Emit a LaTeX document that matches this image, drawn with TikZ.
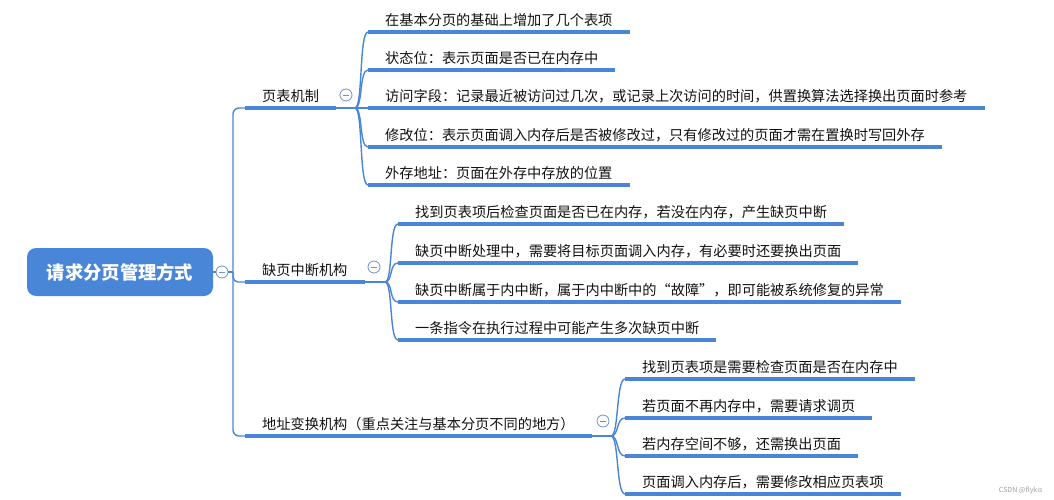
\documentclass[tikz,border=0pt]{standalone}
\usepackage{fontspec}
\setmainfont{Noto Sans CJK SC}
\usepackage{xcolor}
\usepackage{tikz}
\definecolor{ink}{HTML}{111111}
\definecolor{branch}{HTML}{4A86D8}
\definecolor{foldc}{HTML}{7090C8}
\definecolor{mark}{HTML}{A0A0A0}
\newcommand\topicfont{\fontsize{14.2}{17}\selectfont}
\tikzset{
  link/.style={draw=branch, line width=1.4pt},
  uline/.style={draw=branch, line width=3.6pt},
  rootbox/.style={fill=branch, rounded corners=9pt, minimum width=186pt, minimum height=48pt,
    text=white, font=\fontsize{18.3}{22}\selectfont\bfseries},
  topic/.style={anchor=south west, inner xsep=17pt, inner ysep=5pt, text=ink, font=\topicfont,
    append after command={\pgfextra{\let\topnode=\tikzlastnode}
      (\topnode.south west) edge[uline] (\topnode.south east)}},
  fold/.style={circle, draw=foldc, fill=white, line width=0.8pt, minimum size=12pt, inner sep=0pt,
    path picture={\draw[foldc, line width=0.8pt] ([xshift=-3pt]path picture bounding box.center)
      -- ([xshift=3pt]path picture bounding box.center);}},
}
\begin{document}
\begin{tikzpicture}[x=1pt, y=-1pt]
  \useasboundingbox (0,0) rectangle (1054,500);

  \node[rootbox] (root) at (120,272) {请求分页管理方式};
  \node[fold] (rootfold) at (222,272) {};
  \coordinate (trunk) at (233,272);

  % branches
  \node[topic] (tbl) at (245,108) {页表机制};
  \node[topic] (flt) at (245,282) {缺页中断机构};
  \node[topic] (adr) at (245,436) {地址变换机构（重点关注与基本分页不同的地方）};

  \draw[link] (root) -- (rootfold) -- (trunk);
  \draw[link, rounded corners=6pt] (trunk) |- (tbl.south west);
  \draw[link, rounded corners=5pt] (trunk) |- (flt.south west);
  \draw[link, rounded corners=6pt] (trunk) |- (adr.south west);

  % page table
  \node[topic] (tbl1) at (368,32) {在基本分页的基础上增加了几个表项};
  \node[topic] (tbl2) at (368,70) {状态位：表示页面是否已在内存中};
  \node[topic] (tbl3) at (368,108) {访问字段：记录最近被访问过几次，或记录上次访问的时间，供置换算法选择换出页面时参考};
  \node[topic] (tbl4) at (368,147) {修改位：表示页面调入内存后是否被修改过，只有修改过的页面才需在置换时写回外存};
  \node[topic] (tbl5) at (368,185) {外存地址：页面在外存中存放的位置};
  \coordinate (tblfan) at (355,108);
  \draw[link] (tbl.south east) -- (tblfan);
  \draw[link] (tblfan) .. controls +(8,0) and +(-9,0) .. (tbl1.south west);
  \draw[link] (tblfan) .. controls +(8,0) and +(-9,0) .. (tbl2.south west);
  \draw[link] (tblfan) -- (tbl3.south west);
  \draw[link] (tblfan) .. controls +(8,0) and +(-9,0) .. (tbl4.south west);
  \draw[link] (tblfan) .. controls +(8,0) and +(-9,0) .. (tbl5.south west);
  \node[fold] (tblfold) at (346,95) {};

  % page fault
  \node[topic] (flt1) at (398,224) {找到页表项后检查页面是否已在内存，若没在内存，产生缺页中断};
  \node[topic] (flt2) at (398,263) {缺页中断处理中，需要将目标页面调入内存，有必要时还要换出页面};
  \node[topic] (flt3) at (398,302) {缺页中断属于内中断，属于内中断中的“故障”，即可能被系统修复的异常};
  \node[topic] (flt4) at (398,340) {一条指令在执行过程中可能产生多次缺页中断};
  \coordinate (fltfan) at (385,282);
  \draw[link] (flt.south east) -- (fltfan);
  \draw[link] (fltfan) .. controls +(8,0) and +(-9,0) .. (flt1.south west);
  \draw[link] (fltfan) .. controls +(8,0) and +(-9,0) .. (flt2.south west);
  \draw[link] (fltfan) .. controls +(8,0) and +(-9,0) .. (flt3.south west);
  \draw[link] (fltfan) .. controls +(8,0) and +(-9,0) .. (flt4.south west);
  \node[fold] (fltfold) at (374,267) {};

  % address translation
  \node[topic] (adr1) at (625,379) {找到页表项是需要检查页面是否在内存中};
  \node[topic] (adr2) at (625,418) {若页面不再内存中，需要请求调页};
  \node[topic] (adr3) at (625,456) {若内存空间不够，还需换出页面};
  \node[topic] (adr4) at (625,494) {页面调入内存后，需要修改相应页表项};
  \coordinate (adrfan) at (611,436);
  \draw[link] (adr.south east) -- (adrfan);
  \draw[link] (adrfan) .. controls +(8,0) and +(-9,0) .. (adr1.south west);
  \draw[link] (adrfan) .. controls +(8,0) and +(-9,0) .. (adr2.south west);
  \draw[link] (adrfan) .. controls +(8,0) and +(-9,0) .. (adr3.south west);
  \draw[link] (adrfan) .. controls +(8,0) and +(-9,0) .. (adr4.south west);
  \node[fold] (adrfold) at (603,421) {};

  \node[anchor=east, text=mark, font=\fontsize{7}{8}\selectfont] (wmark) at (1046,490) {CSDN @flykis};
\end{tikzpicture}
\end{document}
